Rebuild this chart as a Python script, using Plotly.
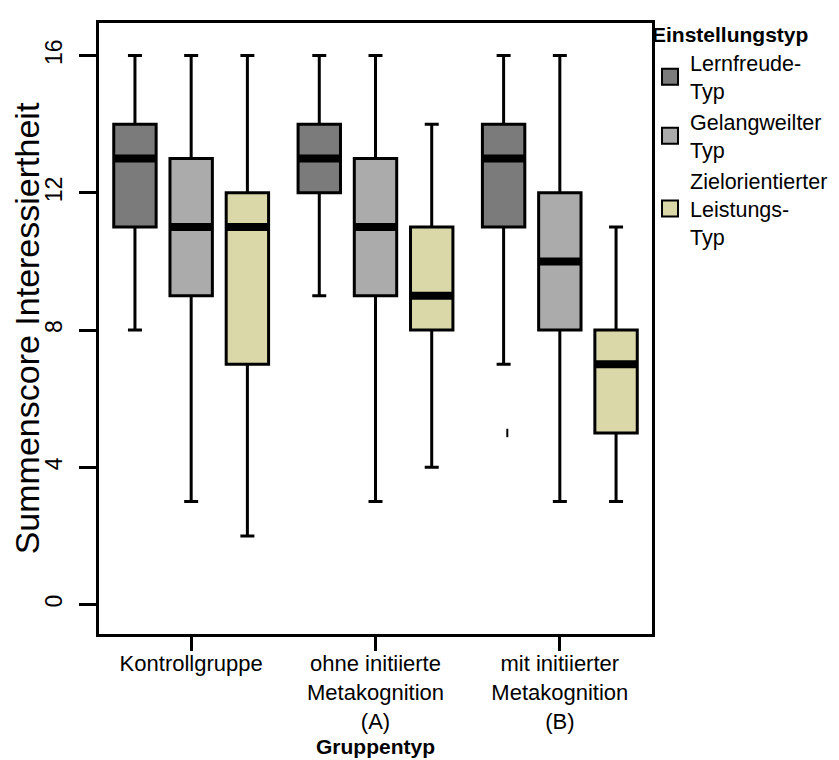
import plotly.graph_objects as go

# ---- data ----
groups = ["Kontrollgruppe", "ohne initiierte<br>Metakognition<br>(A)", "mit initiierter<br>Metakognition<br>(B)"]
types = ["Lernfreude-<br>Typ", "Gelangweilter<br>Typ", "Zielorientierter<br>Leistungs-<br>Typ"]
colors = ["#7b7b7b", "#ababab", "#dad7a8"]

lower = {0: [8, 9, 7], 1: [3, 3, 3], 2: [2, 4, 3]}
q1 = {0: [11, 12, 11], 1: [9, 9, 8], 2: [7, 8, 5]}
median = {0: [13, 13, 13], 1: [11, 11, 10], 2: [11, 9, 7]}
q3 = {0: [14, 14, 14], 1: [13, 13, 12], 2: [12, 11, 8]}
upper = {0: [16, 16, 16], 1: [16, 16, 16], 2: [16, 14, 11]}

outlier_type = 0
outlier_group = 2
outlier_value = [5]

y_ticks = [0, 4, 8, 12, 16]

# ---- layout params ----
offsets = [-0.305, 0.0, 0.305]
box_w = 0.23
FONT = "Arial, Liberation Sans, sans-serif"

fig = go.Figure()
gx = list(range(len(groups)))

for t in range(3):
    xs = [g + offsets[t] for g in gx]
    fig.add_trace(go.Box(
        x=xs, q1=q1[t], median=median[t], q3=q3[t],
        lowerfence=lower[t], upperfence=upper[t],
        width=box_w, whiskerwidth=0.33,
        fillcolor=colors[t], line=dict(color="black", width=3),
        showlegend=False, boxpoints=False, hoverinfo="skip",
    ))
    mx, my = [], []
    for g in gx:
        c = g + offsets[t]
        mx += [c - box_w / 2, c + box_w / 2, None]
        my += [median[t][g], median[t][g], None]
    fig.add_trace(go.Scatter(x=mx, y=my, mode="lines",
                             line=dict(color="black", width=8),
                             showlegend=False, hoverinfo="skip"))

fig.add_trace(go.Scatter(
    x=[outlier_group + offsets[outlier_type] + 0.02] * len(outlier_value), y=outlier_value,
    mode="markers", marker=dict(symbol="line-ns", size=6, line=dict(color="black", width=2)),
    showlegend=False, hoverinfo="skip"))

for t in range(3):
    fig.add_trace(go.Scatter(
        x=[None], y=[None], mode="markers", name=types[t],
        marker=dict(symbol="square", size=19, color=colors[t], line=dict(color="black", width=2)),
    ))

fig.update_layout(
    width=839, height=760,
    margin=dict(l=85, r=195, t=7, b=134),
    paper_bgcolor="white", plot_bgcolor="white",
    font=dict(family=FONT, size=23, color="black"),
    legend=dict(
        x=0.9964, xanchor="left", y=1.013, yanchor="top",
        title=dict(text="<b>Einstellungstyp</b>", font=dict(size=21)),
        font=dict(size=21.5), valign="middle", itemsizing="trace",
        bgcolor="rgba(0,0,0,0)",
    ),
    annotations=[dict(
        text="<b>Gruppentyp</b>", xref="paper", yref="paper",
        x=0.5, y=-0.2068, xanchor="center", yanchor="bottom",
        showarrow=False, font=dict(size=21),
    )],
)
fig.update_xaxes(
    range=[-0.5, 2.5], tickmode="array", tickvals=gx, ticktext=groups,
    showline=True, mirror=True, linewidth=3, linecolor="black",
    ticks="outside", ticklen=14, tickwidth=2.5, tickcolor="black",
    ticklabelstandoff=-6, tickfont=dict(size=22),
    showgrid=False, zeroline=False,
)
fig.update_yaxes(
    range=[-0.86, 16.95], tickmode="array", tickvals=y_ticks,
    tickangle=-90, ticklabelstandoff=8,
    showline=True, mirror=True, linewidth=3, linecolor="black",
    ticks="outside", ticklen=17, tickwidth=2.5, tickcolor="black",
    showgrid=False, zeroline=False,
    title=dict(text="Summenscore Interessiertheit", font=dict(size=34), standoff=2),
)

fig.write_html("out.html")
